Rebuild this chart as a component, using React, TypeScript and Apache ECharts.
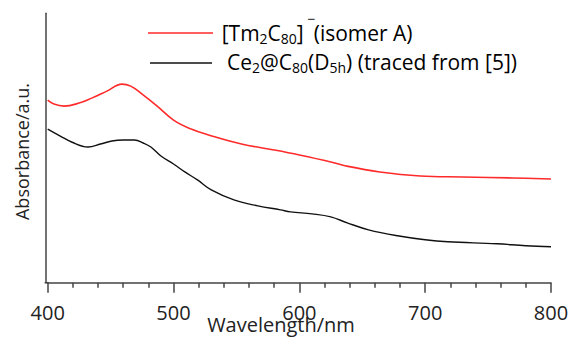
import React, { useEffect, useRef } from "react";
import * as echarts from "echarts";

const redWavelengths = [400, 405, 413, 425, 435, 447, 459, 466, 474, 487, 500, 514, 528, 554, 580, 600, 625, 637, 664, 696, 730, 770, 800];
const redAbsorbance = [183, 179, 177, 180, 185, 192, 199, 197, 190, 177, 163, 154, 148, 139, 133, 128, 121, 117, 111, 107, 106, 105, 104];

const blackWavelengths = [400, 410, 419, 432, 442, 451, 460, 469, 476, 482, 490, 500, 509, 519, 530, 548, 567, 585, 593, 610, 625, 638, 655, 678, 700, 718, 757, 780, 800];
const blackAbsorbance = [154, 147, 141, 136, 139, 142, 143, 143, 140, 136, 127, 119, 111, 103, 93, 83, 77, 73, 71, 69, 66, 60, 53, 47, 43, 41, 39, 37, 36];

const xTickLabels = ["400", "500", "600", "700", "800"];
const xAxisName = "Wavelength/nm";
const yAxisName = "Absorbance/a.u.";

const FONT = "Open Sans";

export default function App() {
  const ref = useRef<HTMLDivElement>(null);
  useEffect(() => {
    if (!ref.current) return;
    document.body.style.margin = "0";
    const chart = echarts.init(ref.current, null, { renderer: "svg" });
    const redData = redWavelengths.map((w, i) => [w, redAbsorbance[i]]);
    const blackData = blackWavelengths.map((w, i) => [w, blackAbsorbance[i]]);
    const rich = {
      m: { fontSize: 21, fontFamily: FONT, color: "#111", lineHeight: 40, verticalAlign: "middle" },
      s: { fontSize: 14, fontFamily: FONT, color: "#111", lineHeight: 30, padding: [10, 0, 0, 0], verticalAlign: "middle" },
      g: { fontSize: 21, fontFamily: FONT, width: 10, lineHeight: 40, verticalAlign: "middle" },
    };
    chart.setOption({
      animation: false,
      grid: { left: 47.7, right: 22, top: 13.3, bottom: 57.3, containLabel: false },
      xAxis: {
        type: "value",
        min: 400,
        max: 800,
        interval: 100,
        axisLine: { show: true, lineStyle: { color: "#444", width: 1.5 } },
        axisTick: { show: true, length: 10, lineStyle: { color: "#444", width: 1.5 } },
        minorTick: { show: true, splitNumber: 5, length: 5, lineStyle: { color: "#444", width: 1.5 } },
        splitLine: { show: false },
        minorSplitLine: { show: false },
        axisLabel: {
          margin: 20,
          fontSize: 20,
          fontFamily: FONT,
          color: "#222",
          formatter: (v: number) => xTickLabels[Math.round((v - 400) / 100)] ?? "",
        },
      },
      yAxis: {
        type: "value",
        min: 0,
        max: 270,
        offset: 2.4,
        axisLine: { show: true, lineStyle: { color: "#444", width: 1.5 } },
        axisTick: { show: false },
        axisLabel: { show: false },
        splitLine: { show: false },
      },
      series: [
        {
          type: "line",
          data: redData,
          smooth: 0.4,
          showSymbol: false,
          lineStyle: { color: "#ff2a2a", width: 1.6 },
        },
        {
          type: "line",
          data: blackData,
          smooth: 0.4,
          showSymbol: false,
          lineStyle: { color: "#111", width: 1.4 },
        },
      ],
      graphic: [
        { type: "line", shape: { x1: 44.6, y1: 282.7, x2: 48.5, y2: 282.7 }, style: { stroke: "#444", lineWidth: 1.5 } },
        {
          type: "text",
          x: 281,
          y: 314,
          style: { text: xAxisName, fontSize: 20, fontFamily: FONT, fill: "#222", align: "center", verticalAlign: "top" },
        },
        {
          type: "text",
          x: 21.5,
          y: 151.5,
          rotation: Math.PI / 2,
          style: { text: yAxisName, fontSize: 18, fontFamily: FONT, fill: "#222", align: "center", verticalAlign: "middle" },
        },
        { type: "line", shape: { x1: 148, y1: 33, x2: 213, y2: 33 }, style: { stroke: "#ff2a2a", lineWidth: 1.6 } },
        { type: "line", shape: { x1: 150, y1: 63, x2: 212, y2: 63 }, style: { stroke: "#111", lineWidth: 1.4 } },
        {
          type: "text",
          x: 221.7,
          y: 13,
          style: {
            text: "{m|[Tm}{s|2}{m|C}{s|80}{m|]}{g| }{m|(isomer A)}",
            rich,
            align: "left",
            verticalAlign: "top",
          },
        },
        {
          type: "text",
          x: 311.5,
          y: 18.3,
          style: { text: "−", fontSize: 14, fontFamily: FONT, fill: "#111", align: "center", verticalAlign: "middle" },
        },
        {
          type: "text",
          x: 227,
          y: 42,
          style: {
            text: "{m|Ce}{s|2}{m|@C}{s|80}{m|(D}{s|5h}{m|) (traced from [5])}",
            rich,
            align: "left",
            verticalAlign: "top",
          },
        },
      ],
    });
    return () => chart.dispose();
  }, []);
  return <div ref={ref} style={{ width: 573, height: 340 }} />;
}
